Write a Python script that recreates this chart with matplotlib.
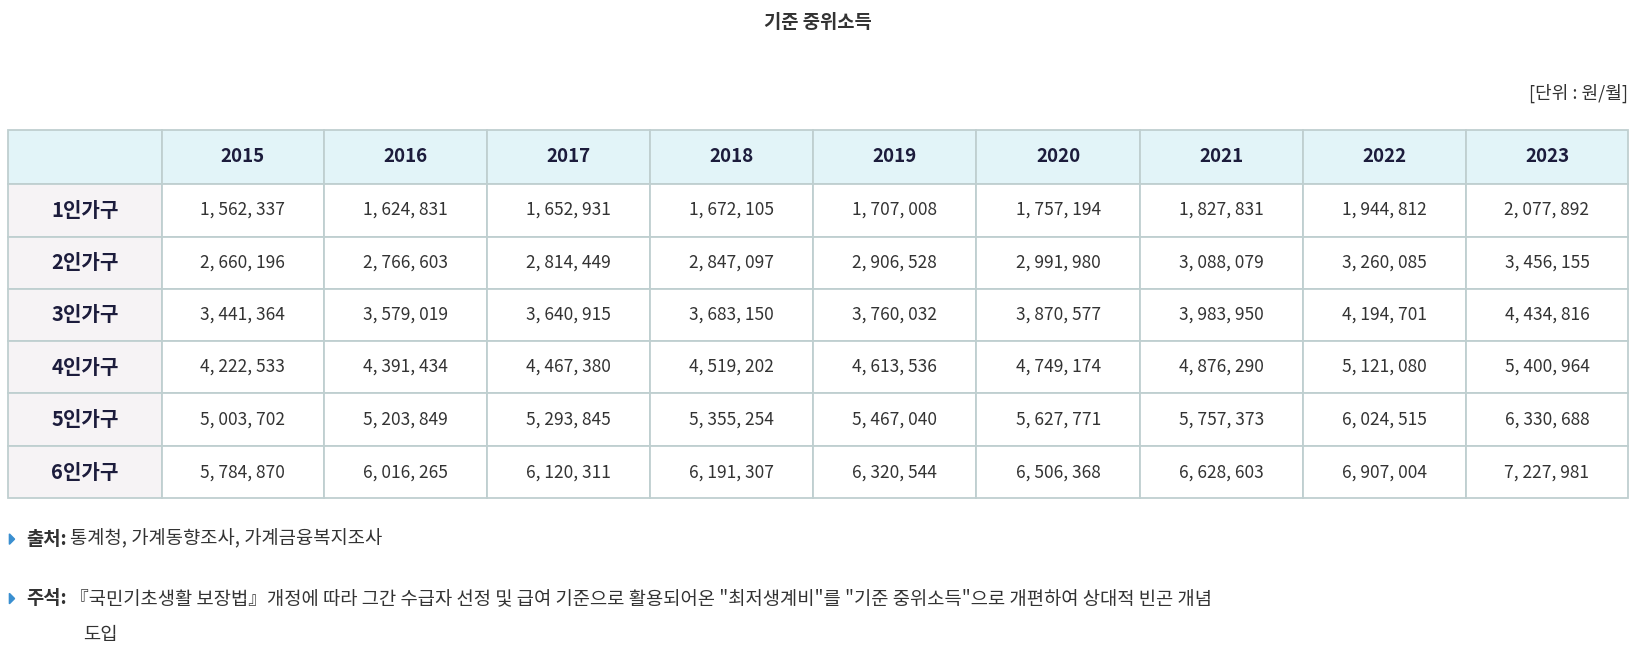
import matplotlib
matplotlib.use("Agg")
import matplotlib.pyplot as plt
from matplotlib.patches import Rectangle, Polygon
from matplotlib import font_manager

names = {f.name for f in font_manager.fontManager.ttflist}
cjk = [n for n in ["Noto Sans CJK KR", "Noto Sans CJK JP", "Noto Sans CJK SC", "Noto Sans CJK TC"] if n in names]
plt.rcParams["font.family"] = cjk + ["DejaVu Sans"]

title = "기준 중위소득"
unit = "[단위 : 원/월]"
years = ["2015", "2016", "2017", "2018", "2019", "2020", "2021", "2022", "2023"]
households = ["1인가구", "2인가구", "3인가구", "4인가구", "5인가구", "6인가구"]
values = [
    [1562337, 1624831, 1652931, 1672105, 1707008, 1757194, 1827831, 1944812, 2077892],
    [2660196, 2766603, 2814449, 2847097, 2906528, 2991980, 3088079, 3260085, 3456155],
    [3441364, 3579019, 3640915, 3683150, 3760032, 3870577, 3983950, 4194701, 4434816],
    [4222533, 4391434, 4467380, 4519202, 4613536, 4749174, 4876290, 5121080, 5400964],
    [5003702, 5203849, 5293845, 5355254, 5467040, 5627771, 5757373, 6024515, 6330688],
    [5784870, 6016265, 6120311, 6191307, 6320544, 6506368, 6628603, 6907004, 7227981],
]
src_label = "출처:"
src_text = "통계청, 가계동향조사, 가계금융복지조사"
note_label = "주석:"
note_text = "『국민기초생활 보장법』개정에 따라 그간 수급자 선정 및 급여 기준으로 활용되어온 \"최저생계비\"를 \"기준 중위소득\"으로 개편하여 상대적 빈곤 개념"
note_text2 = "도입"

W, H = 1568, 631
fig = plt.figure(figsize=(16.34, 6.58), dpi=100)
ax = fig.add_axes([0, 0, 1, 1])
ax.set_xlim(0, W); ax.set_ylim(H, 0); ax.axis("off")

txt = "#1c1c3c"
border = "#bfcfd0"
cols = [8, 155, 311, 467, 624, 780, 937, 1094, 1250, 1407, 1562]
rows = [125, 176, 227, 277, 327, 377, 428, 478]

ax.text(785, 22, title, ha="center", va="center", fontsize=13.5, fontweight="bold", color="#333333")
ax.text(1562, 90, unit, ha="right", va="center", fontsize=13, color="#333333")

for r in range(len(rows) - 1):
    for c in range(len(cols) - 1):
        x0, x1 = cols[c], cols[c + 1]
        y0, y1 = rows[r], rows[r + 1]
        if r == 0:
            fc = "#e2f4f8"
        elif c == 0:
            fc = "#f6f3f5"
        else:
            fc = "white"
        ax.add_patch(Rectangle((x0, y0), x1 - x0, y1 - y0, facecolor=fc, edgecolor=border, lw=1.3))
        cx, cy = (x0 + x1) / 2, (y0 + y1) / 2
        if r == 0 and c > 0:
            ax.text(cx, cy, years[c - 1], ha="center", va="center", fontsize=13.5, fontweight="bold", color=txt)
        elif r > 0 and c == 0:
            ax.text(cx, cy, households[r - 1], ha="center", va="center", fontsize=14.5, fontweight="bold", color=txt)
        elif r > 0:
            ax.text(cx, cy, f"{values[r-1][c-1]:,}".replace(",", ", "), ha="center", va="center", fontsize=12.5, color="#333333")

def bullet(y):
    ax.add_patch(Polygon([[9, y - 5], [9, y + 5], [14, y]], closed=True, color="#3a8fd0"))

bullet(517)
ax.text(25, 517, src_label, ha="left", va="center", fontsize=13.5, fontweight="bold", color="#333333")
ax.text(67, 517, src_text, ha="left", va="center", fontsize=13.5, color="#333333")
bullet(574)
ax.text(25, 574, note_label, ha="left", va="center", fontsize=13.5, fontweight="bold", color="#333333")
ax.text(67, 574, note_text, ha="left", va="center", fontsize=13.5, color="#333333")
ax.text(80, 608, note_text2, ha="left", va="center", fontsize=13.5, color="#333333")

fig.savefig("out.png", dpi=100)
